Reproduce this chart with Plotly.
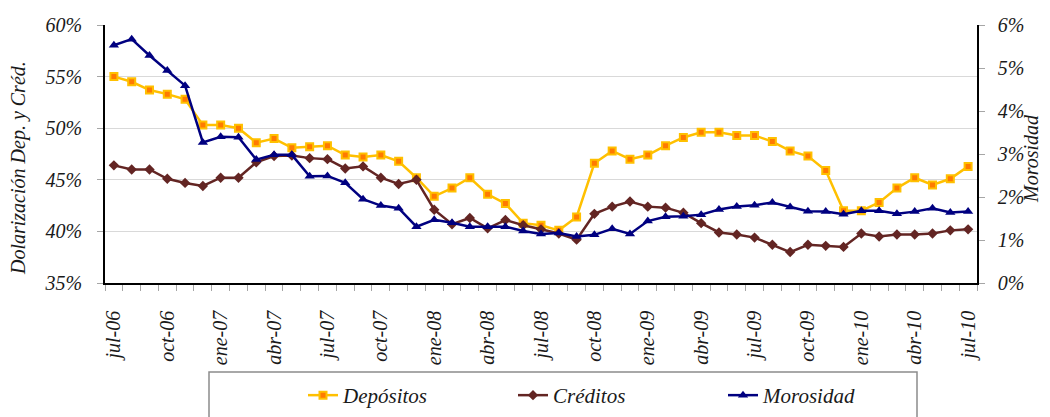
import plotly.graph_objects as go

months = [
    "jul-06", "ago-06", "sep-06", "oct-06", "nov-06", "dic-06",
    "ene-07", "feb-07", "mar-07", "abr-07", "may-07", "jun-07",
    "jul-07", "ago-07", "sep-07", "oct-07", "nov-07", "dic-07",
    "ene-08", "feb-08", "mar-08", "abr-08", "may-08", "jun-08",
    "jul-08", "ago-08", "sep-08", "oct-08", "nov-08", "dic-08",
    "ene-09", "feb-09", "mar-09", "abr-09", "may-09", "jun-09",
    "jul-09", "ago-09", "sep-09", "oct-09", "nov-09", "dic-09",
    "ene-10", "feb-10", "mar-10", "abr-10", "may-10", "jun-10",
    "jul-10",
]

depositos = [
    55.0, 54.5, 53.7, 53.3, 52.8, 50.3, 50.3, 50.0, 48.6, 49.0,
    48.1, 48.2, 48.3, 47.4, 47.2, 47.4, 46.8, 45.2, 43.4, 44.2,
    45.2, 43.6, 42.7, 40.8, 40.6, 40.1, 41.4, 46.6, 47.8, 47.0,
    47.4, 48.3, 49.1, 49.6, 49.6, 49.3, 49.3, 48.7, 47.8, 47.3,
    45.9, 42.0, 42.0, 42.8, 44.2, 45.2, 44.5, 45.1, 46.3,
]

creditos = [
    46.4, 46.0, 46.0, 45.1, 44.7, 44.4, 45.2, 45.2, 46.7, 47.3,
    47.35, 47.1, 47.0, 46.1, 46.3, 45.2, 44.6, 45.0, 42.1, 40.7,
    41.3, 40.3, 41.1, 40.6, 40.2, 39.8, 39.2, 41.7, 42.4, 42.9,
    42.4, 42.3, 41.8, 40.8, 39.9, 39.7, 39.4, 38.7, 38.0, 38.7,
    38.6, 38.5, 39.8, 39.5, 39.7, 39.7, 39.8, 40.1, 40.2,
]

morosidad = [
    5.53, 5.67, 5.29, 4.94, 4.59, 3.27, 3.40, 3.39, 2.87, 2.98,
    2.98, 2.48, 2.49, 2.33, 1.95, 1.80, 1.74, 1.31, 1.47, 1.40,
    1.31, 1.31, 1.31, 1.21, 1.14, 1.16, 1.08, 1.12, 1.26, 1.14,
    1.44, 1.54, 1.55, 1.59, 1.71, 1.78, 1.81, 1.87, 1.77, 1.67,
    1.66, 1.60, 1.68, 1.68, 1.61, 1.66, 1.74, 1.64, 1.66,
]

series_names = ["Depósitos", "Créditos", "Morosidad"]
axis_titles = ["Dolarización Dep. y Créd.", "Morosidad"]
left_ticks = [35, 40, 45, 50, 55, 60]
right_ticks = [0, 1, 2, 3, 4, 5, 6]

x = list(range(len(months)))
label_idx = x[::3]

FONT = "Liberation Serif, Times New Roman, serif"
TXT = "#1a1a1a"
OFF = 8  # page body margin
W, H = 1050 - OFF, 417 - OFF
# plot area in page pixels: x 105..977, y 25..283
ML, MT = 105 - OFF, 25 - OFF
MR = W - (977 - OFF)
MB = H - (283 - OFF)
PW, PH = W - ML - MR, H - MT - MB


def px_x(p):
    return (p - OFF - ML) / PW


def px_y(p):
    return (H - MB - (p - OFF)) / PH


fig = go.Figure()
fig.add_trace(go.Scatter(
    x=x, y=depositos, name=series_names[0], mode="lines+markers",
    line=dict(color="#FFC000", width=2.5),
    marker=dict(symbol="square", size=7, color="#FF7A00",
                line=dict(color="#FFC000", width=2)),
))
fig.add_trace(go.Scatter(
    x=x, y=creditos, name=series_names[1], mode="lines+markers",
    line=dict(color="#632523", width=2.5),
    marker=dict(symbol="diamond", size=8, color="#632523"),
))
fig.add_trace(go.Scatter(
    x=x, y=morosidad, name=series_names[2], mode="lines+markers",
    yaxis="y2",
    line=dict(color="#000080", width=2.5),
    marker=dict(symbol="triangle-up", size=9, color="#000080"),
))

tick_font = dict(family=FONT, size=20, color=TXT, style="italic")
title_font = dict(family=FONT, size=20, color=TXT, style="italic")

fig.update_layout(
    width=W, height=H,
    margin=dict(l=ML, r=MR, t=MT, b=MB, autoexpand=False),
    paper_bgcolor="white", plot_bgcolor="white",
    font=dict(family=FONT, size=20, color=TXT, style="italic"),
    xaxis=dict(
        range=[-0.5, len(months) - 0.5],
        tickmode="array", tickvals=label_idx,
        ticktext=[months[i] for i in label_idx],
        tickangle=-90, ticks="", ticklen=0, ticklabelstandoff=18,
        tickfont=tick_font,
        showline=True, linecolor="black", linewidth=1.5,
        showgrid=False, zeroline=False,
        minor=dict(tickmode="linear", tick0=-0.5, dtick=1,
                   ticks="outside", ticklen=6, tickcolor="#A6A6A6",
                   showgrid=False),
    ),
    yaxis=dict(
        range=[35, 60], tickmode="array", tickvals=left_ticks,
        ticktext=[f"{v}%" for v in left_ticks],
        tickfont=tick_font,
        ticks="outside", ticklen=6, tickcolor="#A6A6A6",
        ticklabelstandoff=11,
        showline=True, linecolor="black", linewidth=1.5,
        showgrid=True, gridcolor="#D9D9D9", gridwidth=1, zeroline=False,
    ),
    yaxis2=dict(
        range=[0, 6], tickmode="array", tickvals=right_ticks,
        ticktext=[f"{v}%" for v in right_ticks],
        overlaying="y", side="right",
        tickfont=tick_font,
        ticks="outside", ticklen=6, tickcolor="#A6A6A6",
        ticklabelstandoff=9,
        showline=True, linecolor="black", linewidth=1.5,
        showgrid=False, zeroline=False,
    ),
    annotations=[
        dict(text=axis_titles[0], textangle=-90, xref="paper", yref="paper",
             x=px_x(18), y=px_y(168), xanchor="center", yanchor="middle",
             showarrow=False, font=title_font),
        dict(text=axis_titles[1], textangle=-90, xref="paper", yref="paper",
             x=px_x(1031), y=px_y(158), xanchor="center", yanchor="middle",
             showarrow=False, font=title_font),
    ],
    showlegend=True,
    legend=dict(
        orientation="h", x=px_x(303), xanchor="left",
        y=px_y(375), yanchor="top",
        font=dict(family=FONT, size=21, color=TXT, style="italic"),
        bgcolor="rgba(0,0,0,0)", borderwidth=0,
        entrywidth=165, entrywidthmode="pixels",
    ),
    shapes=[dict(
        type="rect", xref="paper", yref="paper",
        x0=px_x(209), x1=px_x(917), y0=px_y(372), y1=px_y(440),
        line=dict(color="#8C8C8C", width=1.5), fillcolor="rgba(0,0,0,0)",
        layer="below",
    )],
)

fig.write_html("out.html")
